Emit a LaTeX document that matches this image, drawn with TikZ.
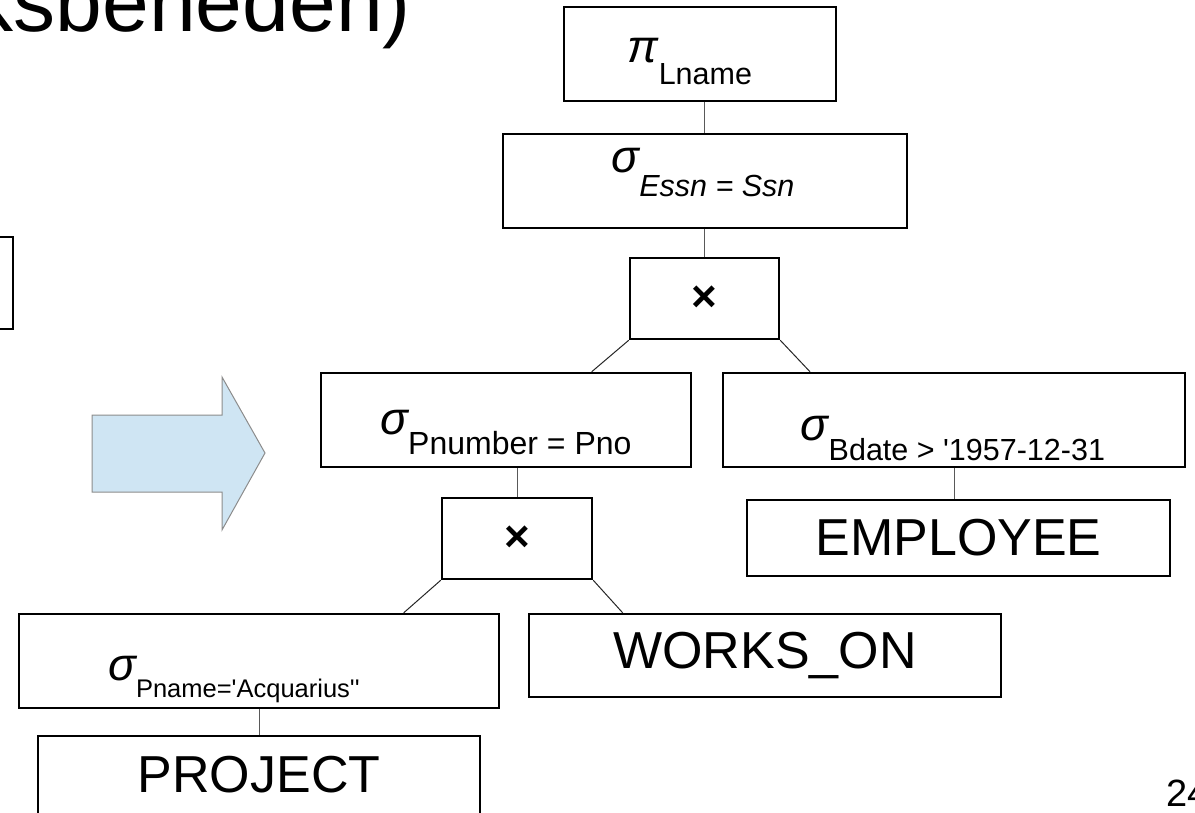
\documentclass[tikz,border=0pt]{standalone}
\usepackage{fontspec}
\setmainfont{Liberation Sans}[Ligatures=TeXOff]
\usetikzlibrary{calc}
% operator symbol with a lowered condition: [drop]{symbol}{size of condition}{condition}
\newcommand\algop[4][20]{{\fontsize{46}{46}\selectfont\itshape #2}\raisebox{-#1pt}{\fontsize{#3}{#3}\selectfont #4}}
\definecolor{arrowfill}{HTML}{CFE5F3}
\definecolor{arrowline}{HTML}{8C8C8C}
\begin{document}
\begin{tikzpicture}[x=1pt,y=-1pt,
  opbox/.style={draw=black, line width=2.4pt, rectangle, inner sep=0pt},
  link/.style={draw=black!65, line width=1pt},
  slant/.style={draw=black!85, line width=1pt},
  oplabel/.style={anchor=base, inner sep=0pt},
  crossop/.style={font=\fontsize{44}{44}\selectfont\bfseries, inner sep=0pt},
  relname/.style={font=\fontsize{52}{60}\selectfont}]
\useasboundingbox (0,0) rectangle (1195,813);
\clip (0,0) rectangle (1195,813);

% slide title, partly outside the frame
\node[anchor=base east, inner sep=0pt, font=\fontsize{84}{84}\selectfont] (title) at (411,32) {ksbeneden)};

% box of the previous tree, cut by the frame
\node[opbox, minimum width=66pt, minimum height=92pt] (prevbox) at (-20,283) {};

% block arrow
\draw[fill=arrowfill, draw=arrowline, line width=1pt]
  (92,415) -- (222,415) -- (222,377) -- (265,453) -- (222,530) -- (222,492) -- (92,492) -- cycle;

% operator boxes
\node[opbox, minimum width=272pt, minimum height=94pt] (pi) at (700,54) {};
\node[opbox, minimum width=404pt, minimum height=94pt] (essn) at (705,181) {};
\node[opbox, minimum width=149pt, minimum height=81pt] (xtop) at (704.5,298.5) {};
\node[opbox, minimum width=370pt, minimum height=94pt] (pnum) at (506,420) {};
\node[opbox, minimum width=462pt, minimum height=94pt] (bdate) at (954,420) {};
\node[opbox, minimum width=150pt, minimum height=81pt] (xlow) at (517,538.5) {};
\node[opbox, minimum width=480pt, minimum height=94pt] (pname) at (259,661) {};

% relation boxes
\node[opbox, relname, minimum width=423pt, minimum height=76pt] (emp) at (958.5,538) {EMPLOYEE};
\node[opbox, relname, minimum width=472pt, minimum height=83pt] (works) at (765,655.5) {WORKS\_ON};
\node[opbox, minimum width=442pt, minimum height=108pt] (proj) at (259,790) {};
\node[relname, inner sep=0pt] (projtext) at (259,775) {PROJECT};

% operator labels
\node[oplabel] (pilabel) at (690,63) {\algop[22]{π}{30.5}{Lname}};
\node[oplabel] (essnlabel) at (703,173) {\algop[24]{σ}{30.5}{\itshape Essn = Ssn}};
\node[oplabel] (pnumlabel) at (506,434) {\algop{σ}{32}{Pnumber = Pno}};
\node[oplabel] (bdatelabel) at (953,440) {\algop{σ}{30.5}{Bdate > '1957-12-31}};
\node[oplabel] (pnamelabel) at (234,680) {\algop[17]{σ}{25.5}{Pname='Acquarius''}};
\node[crossop] (xtoplabel) at (xtop.center) {×};
\node[crossop] (xlowlabel) at (xlow.center) {×};

% tree edges
\draw[link] (pi.south -| xtop.north) -- (essn.north -| xtop.north);
\draw[link] (essn.south -| xtop.north) -- (xtop.north);
\draw[slant] (xtop.south west) -- ($(pnum.north west)!0.73!(pnum.north east)$);
\draw[slant] (xtop.south east) -- ($(bdate.north west)!0.19!(bdate.north east)$);
\draw[link] (bdate.south) -- (bdate.south |- emp.north);
\draw[link] (pnum.south -| xlow.north) -- (xlow.north);
\draw[slant] (xlow.south west) -- ($(pname.north west)!0.80!(pname.north east)$);
\draw[slant] (xlow.south east) -- ($(works.north west)!0.20!(works.north east)$);
\draw[link] (pname.south) -- (pname.south |- proj.north);

% page number
\node[anchor=base west, inner sep=0pt, font=\fontsize{38}{38}\selectfont] (pageno) at (1166,806) {24};
\end{tikzpicture}
\end{document}
